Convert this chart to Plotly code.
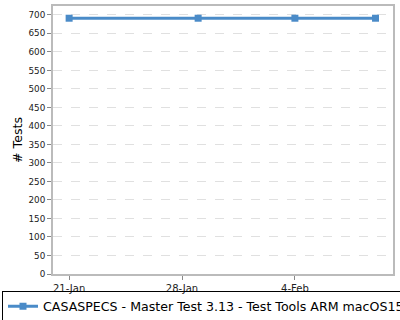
import plotly.graph_objects as go

dates = ["2025-01-21", "2025-01-29", "2025-02-04", "2025-02-09"]
tests = [691, 691, 691, 691]
series_name = "CASASPECS - Master Test 3.13 - Test Tools ARM macOS15 Py3.10"
y_title = "# Tests"

color = "#4a8bc8"
font = "DejaVu Sans"

fig = go.Figure()
fig.add_trace(go.Scatter(
    x=dates, y=tests, mode="lines+markers", name=series_name,
    line=dict(color=color, width=3),
    marker=dict(symbol="square", size=7, color=color),
))

fig.update_layout(
    width=400, height=320,
    margin=dict(l=53, r=7, t=6, b=46, autoexpand=False),
    paper_bgcolor="white", plot_bgcolor="white",
    font=dict(family=font, size=10, color="#222"),
    showlegend=True,
    legend=dict(
        orientation="h", x=0.005, xref="container", xanchor="left",
        y=0.092, yref="container", yanchor="top",
        bordercolor="black", borderwidth=1, font=dict(size=12.6, color="black"),
        itemwidth=30, bgcolor="rgba(0,0,0,0)", tracegroupgap=0,
    ),
    xaxis=dict(
        type="date", range=["2025-01-20", "2025-02-10 02:00"],
        tick0="2025-01-21", dtick=7 * 86400000, tickformat="%-d-%b",
        tickfont=dict(size=10),
        showgrid=False, showline=True, linecolor="#bbbbbb", linewidth=2, mirror=True,
        ticks="outside", ticklen=4, tickcolor="#888", zeroline=False,
    ),
    yaxis=dict(
        range=[0, 724], dtick=50, tick0=0, tickfont=dict(size=8.8),
        showgrid=True, gridcolor="#e0e0e0", griddash="dash", gridwidth=1,
        showline=True, linecolor="#bbbbbb", linewidth=2, mirror=True,
        ticks="outside", ticklen=4, tickcolor="#888", zeroline=False,
        title=dict(text=y_title, font=dict(size=12.6, color="black"), standoff=3),
    ),
)

fig.write_html("out.html")
